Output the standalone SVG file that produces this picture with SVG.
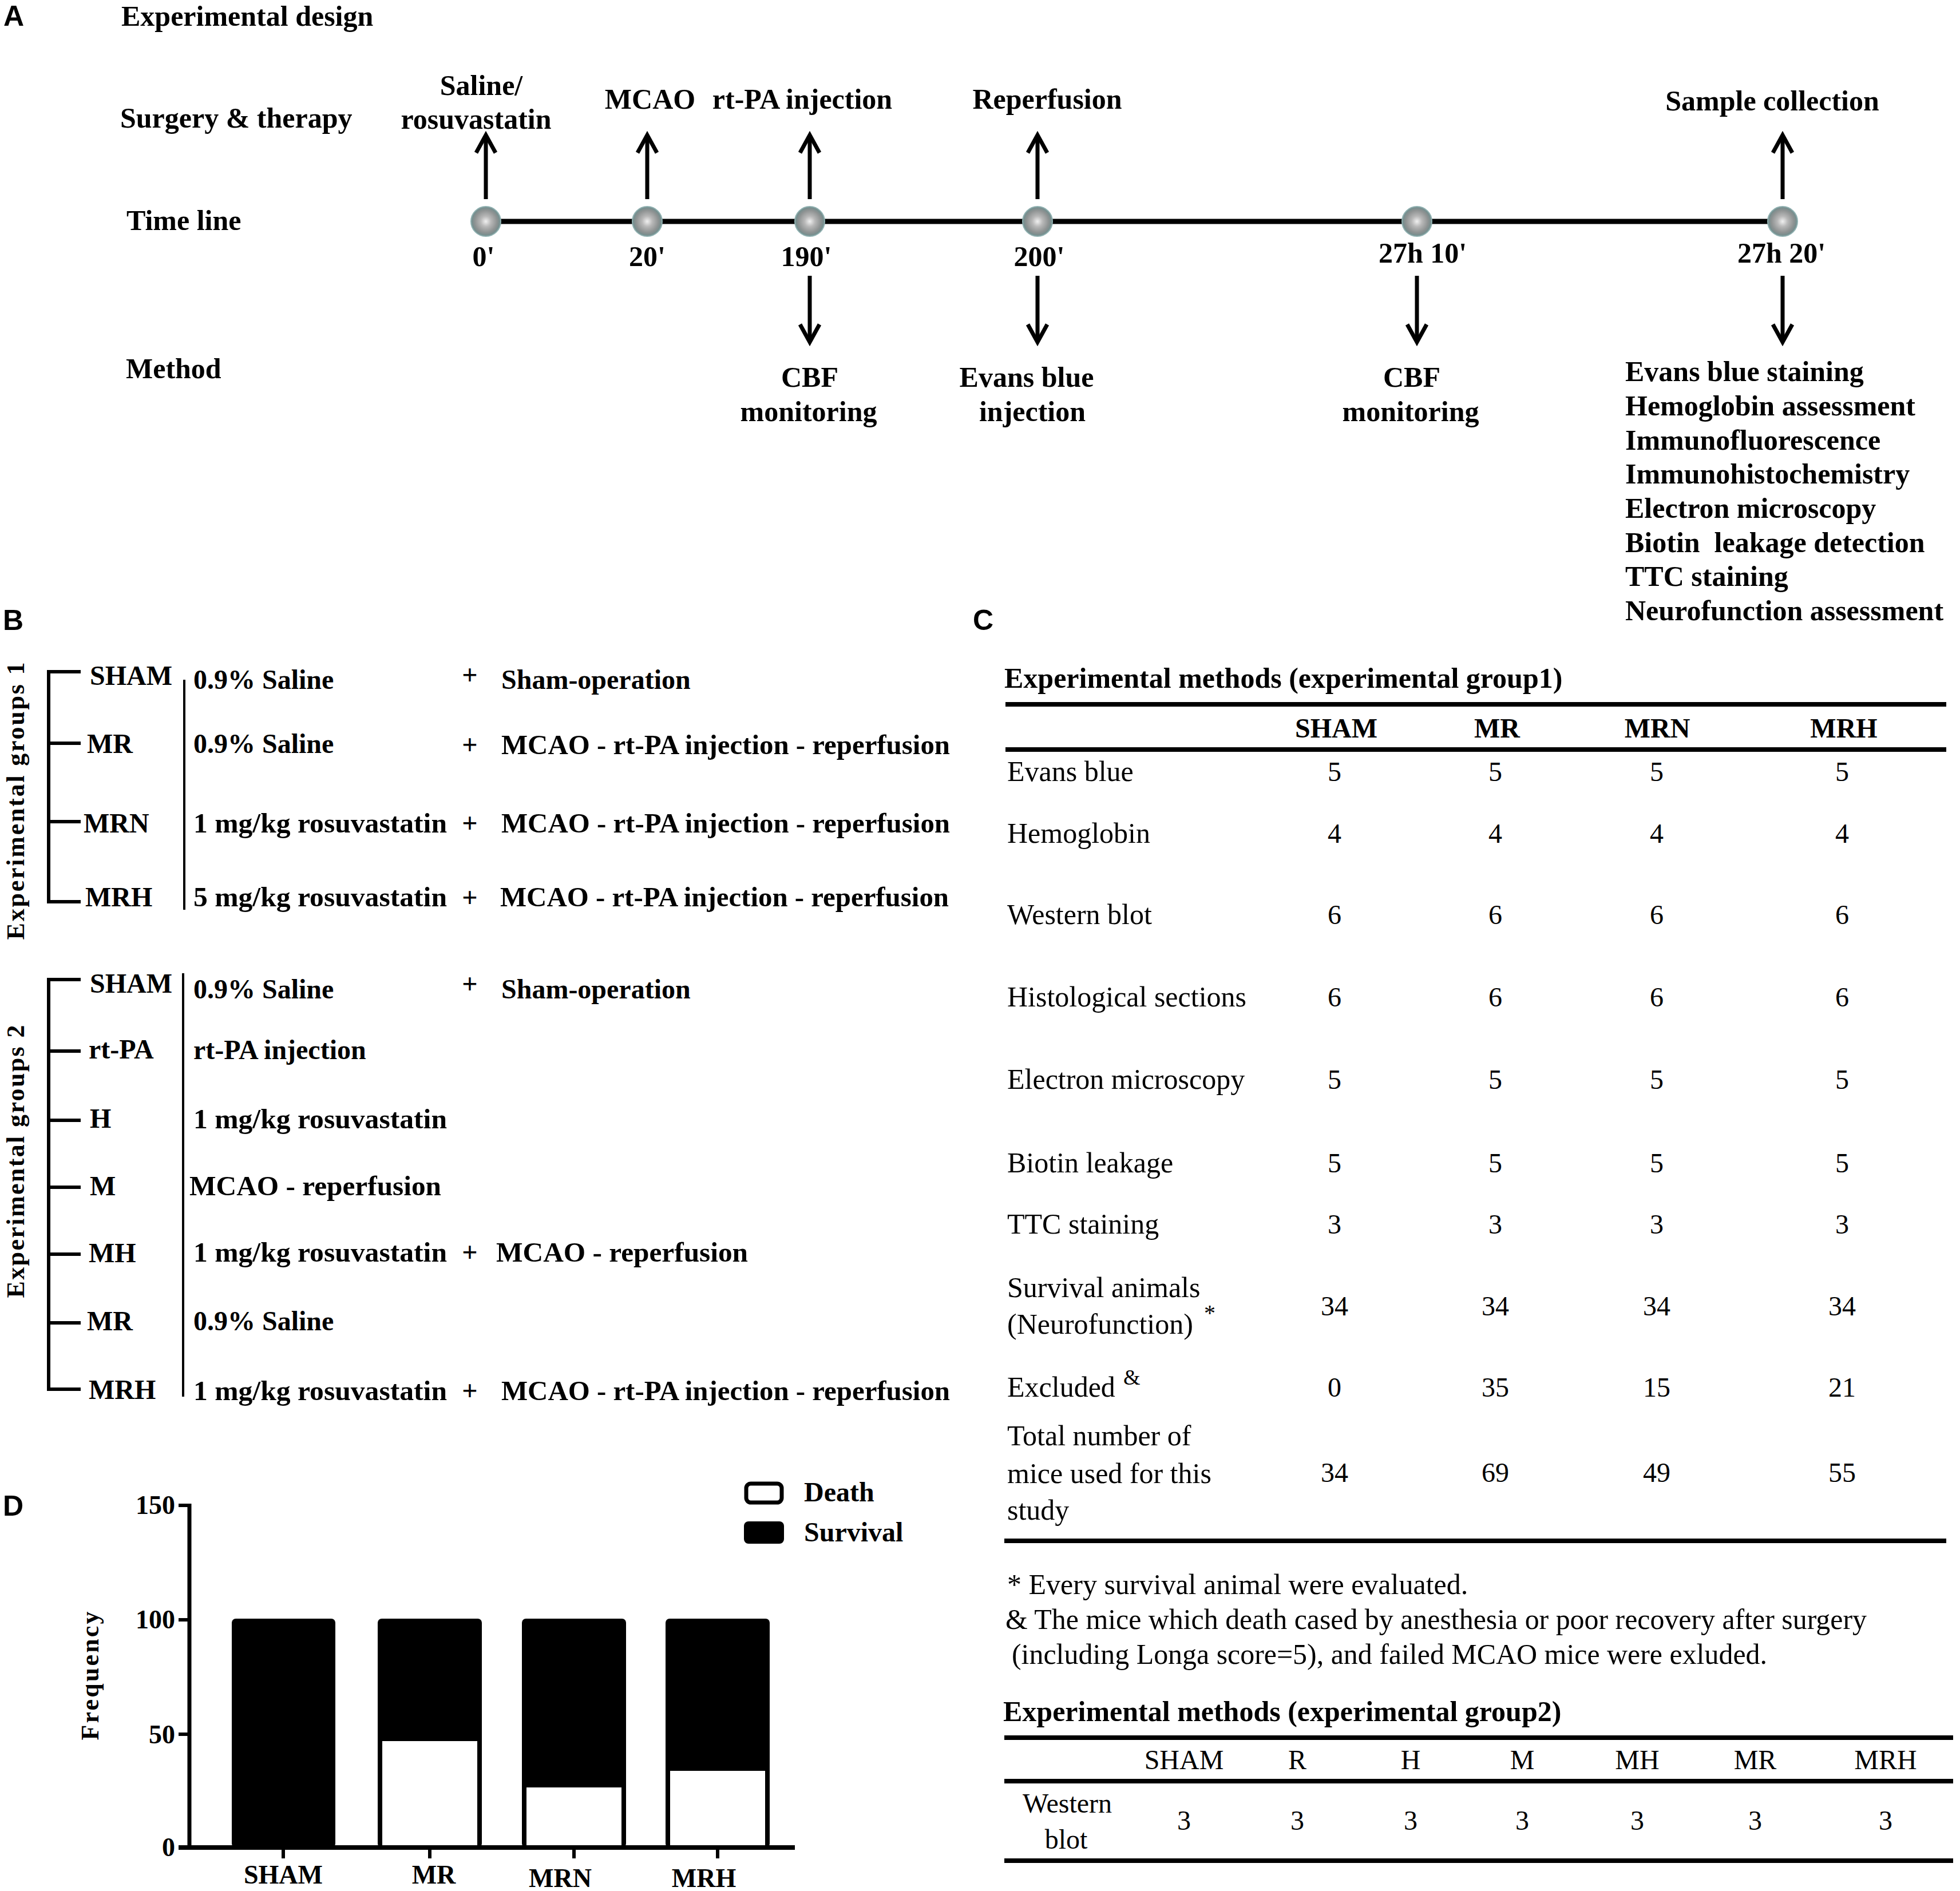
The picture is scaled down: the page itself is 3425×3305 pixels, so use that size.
<svg xmlns="http://www.w3.org/2000/svg" width="3425" height="3305" viewBox="0 0 3425 3305">
<style>
text { fill:#000; }
.b { font-family:"Liberation Serif","Times New Roman",serif; font-weight:bold; }
.r { font-family:"Liberation Serif","Times New Roman",serif; }
.pl { font-family:"Liberation Sans",Arial,sans-serif; font-weight:bold; font-size:50px; }
.s50 { font-size:50px; }
.s48 { font-size:48px; }
.s46 { font-size:46px; }
.m { text-anchor:middle; }
.e { text-anchor:end; }
.ln { stroke:#000; fill:none; }
.arrow { stroke:#000; stroke-width:7; fill:none; marker-end:url(#head); }
.tl { stroke:#000; stroke-width:9; }
.br { stroke:#000; stroke-width:6; fill:none; }
.rule { stroke:#000; stroke-width:8; }
</style>
<defs>
<marker id="head" markerUnits="userSpaceOnUse" markerWidth="80" markerHeight="80" refX="0" refY="0" viewBox="-40 -40 80 80" orient="auto" overflow="visible">
<path d="M-31,-17 L0,0 L-31,17" fill="none" stroke="#000" stroke-width="7"/>
</marker>
<radialGradient id="metal" cx="50%" cy="50%" r="50%">
<stop offset="0" stop-color="#f0f0f0"/>
<stop offset="0.35" stop-color="#b8b8b8"/>
<stop offset="0.75" stop-color="#8e9292"/>
<stop offset="1" stop-color="#6e8c8c"/>
</radialGradient>
</defs>
<rect x="0" y="0" width="3425" height="3305" fill="#fff"/>

<!-- ===== Panel A ===== -->
<g id="panelA">
<text class="pl" x="6" y="45">A</text>
<text class="b s50" x="212" y="45">Experimental design</text>
<text class="b s50" x="210" y="223">Surgery &amp; therapy</text>
<text class="b s50" x="221" y="402">Time line</text>
<text class="b s50" x="220" y="661">Method</text>
</g>

<g id="connectors">
<line class="tl" x1="849" y1="387" x2="3115" y2="387"/>
<line class="arrow" x1="849" y1="348" x2="849" y2="236"/>
<line class="arrow" x1="1131" y1="348" x2="1131" y2="236"/>
<line class="arrow" x1="1415" y1="348" x2="1415" y2="236"/>
<line class="arrow" x1="1813" y1="348" x2="1813" y2="236"/>
<line class="arrow" x1="3115" y1="348" x2="3115" y2="236"/>
<line class="arrow" x1="1415" y1="482" x2="1415" y2="598"/>
<line class="arrow" x1="1813" y1="482" x2="1813" y2="598"/>
<line class="arrow" x1="2476" y1="482" x2="2476" y2="598"/>
<line class="arrow" x1="3115" y1="482" x2="3115" y2="598"/>
</g>

<g id="t0">
<ellipse cx="849" cy="387" rx="26" ry="26" fill="url(#metal)" stroke="#8fb0b0" stroke-width="2"/>
<text class="b s50 m" x="841" y="166">Saline/</text>
<text class="b s50 m" x="832" y="225">rosuvastatin</text>
<text class="b s50 m" x="845" y="465">0'</text>
</g>
<g id="t20">
<ellipse cx="1131" cy="387" rx="26" ry="26" fill="url(#metal)" stroke="#8fb0b0" stroke-width="2"/>
<text class="b s50 m" x="1136" y="190">MCAO</text>
<text class="b s50 m" x="1131" y="465">20'</text>
</g>
<g id="t190">
<ellipse cx="1415" cy="387" rx="26" ry="26" fill="url(#metal)" stroke="#8fb0b0" stroke-width="2"/>
<text class="b s50 m" x="1402" y="190">rt-PA injection</text>
<text class="b s50 m" x="1409" y="465">190'</text>
<text class="b s50 m" x="1415" y="676">CBF</text>
<text class="b s50 m" x="1413" y="736">monitoring</text>
</g>
<g id="t200">
<ellipse cx="1813" cy="387" rx="26" ry="26" fill="url(#metal)" stroke="#8fb0b0" stroke-width="2"/>
<text class="b s50 m" x="1830" y="190">Reperfusion</text>
<text class="b s50 m" x="1816" y="465">200'</text>
<text class="b s50 m" x="1794" y="676">Evans blue</text>
<text class="b s50 m" x="1804" y="736">injection</text>
</g>
<g id="t27h10">
<ellipse cx="2476" cy="387" rx="26" ry="26" fill="url(#metal)" stroke="#8fb0b0" stroke-width="2"/>
<text class="b s50 m" x="2486" y="459">27h 10'</text>
<text class="b s50 m" x="2467" y="676">CBF</text>
<text class="b s50 m" x="2465" y="736">monitoring</text>
</g>
<g id="t27h20">
<ellipse cx="3115" cy="387" rx="26" ry="26" fill="url(#metal)" stroke="#8fb0b0" stroke-width="2"/>
<text class="b s50 m" x="3097" y="193">Sample collection</text>
<text class="b s50 m" x="3113" y="459">27h 20'</text>
<text class="b s50" x="2840" y="666">Evans blue staining</text>
<text class="b s50" x="2840" y="726">Hemoglobin assessment</text>
<text class="b s50" x="2840" y="786">Immunofluorescence</text>
<text class="b s50" x="2840" y="845">Immunohistochemistry</text>
<text class="b s50" x="2840" y="905">Electron microscopy</text>
<text class="b s50" x="2840" y="965" xml:space="preserve">Biotin  leakage detection</text>
<text class="b s50" x="2840" y="1024">TTC staining</text>
<text class="b s50" x="2840" y="1084">Neurofunction assessment</text>
</g>

<!-- ===== Panel B ===== -->
<g id="panelB">
<text class="pl" x="5" y="1101">B</text>
<text class="b" font-size="44" x="0" y="0" text-anchor="middle" textLength="485" lengthAdjust="spacing" transform="translate(42 1400) rotate(-90)">Experimental groups 1</text>
<text class="b" font-size="44" x="0" y="0" text-anchor="middle" textLength="477" lengthAdjust="spacing" transform="translate(42 2030) rotate(-90)">Experimental groups 2</text>
</g>

<g id="brackets">
<path class="br" d="M141,1174 H85 V1576 H141 M85,1299 H141 M85,1436 H141"/>
<line class="ln" stroke-width="4" x1="322" y1="1188" x2="322" y2="1590"/>
<path class="br" d="M141,1712 H85 V2428 H141 M85,1837 H141 M85,1958 H141 M85,2075 H141 M85,2192 H141 M85,2312 H141"/>
<line class="ln" stroke-width="4" x1="320" y1="1701" x2="320" y2="2441"/>
</g>

<g id="g1-sham">
<text class="b s48" x="157" y="1197">SHAM</text>
<text class="b s48" x="338" y="1204">0.9% Saline</text>
<text class="b s48 m" x="821" y="1196">+</text>
<text class="b s48" x="876" y="1204">Sham-operation</text>
</g>
<g id="g1-mr">
<text class="b s48" x="152" y="1316">MR</text>
<text class="b s48" x="338" y="1316">0.9% Saline</text>
<text class="b s48 m" x="821" y="1318">+</text>
<text class="b s48" x="876" y="1318" textLength="784" lengthAdjust="spacingAndGlyphs">MCAO - rt-PA injection - reperfusion</text>
</g>
<g id="g1-mrn">
<text class="b s48" x="146" y="1455">MRN</text>
<text class="b s48" x="338" y="1455" textLength="443" lengthAdjust="spacingAndGlyphs">1 mg/kg rosuvastatin</text>
<text class="b s48 m" x="821" y="1455">+</text>
<text class="b s48" x="876" y="1455" textLength="784" lengthAdjust="spacingAndGlyphs">MCAO - rt-PA injection - reperfusion</text>
</g>
<g id="g1-mrh">
<text class="b s48" x="149" y="1584">MRH</text>
<text class="b s48" x="338" y="1584" textLength="443" lengthAdjust="spacingAndGlyphs">5 mg/kg rosuvastatin</text>
<text class="b s48 m" x="821" y="1585">+</text>
<text class="b s48" x="874" y="1584" textLength="784" lengthAdjust="spacingAndGlyphs">MCAO - rt-PA injection - reperfusion</text>
</g>

<g id="g2-sham">
<text class="b s48" x="157" y="1735">SHAM</text>
<text class="b s48" x="338" y="1745">0.9% Saline</text>
<text class="b s48 m" x="821" y="1736">+</text>
<text class="b s48" x="876" y="1745">Sham-operation</text>
</g>
<g id="g2-rtpa">
<text class="b s48" x="155" y="1850">rt-PA</text>
<text class="b s48" x="338" y="1851">rt-PA injection</text>
</g>
<g id="g2-h">
<text class="b s48" x="157" y="1971">H</text>
<text class="b s48" x="338" y="1972" textLength="443" lengthAdjust="spacingAndGlyphs">1 mg/kg rosuvastatin</text>
</g>
<g id="g2-m">
<text class="b s48" x="157" y="2089">M</text>
<text class="b s48" x="331" y="2089" textLength="440" lengthAdjust="spacingAndGlyphs">MCAO - reperfusion</text>
</g>
<g id="g2-mh">
<text class="b s48" x="155" y="2206">MH</text>
<text class="b s48" x="338" y="2205" textLength="443" lengthAdjust="spacingAndGlyphs">1 mg/kg rosuvastatin</text>
<text class="b s48 m" x="821" y="2205">+</text>
<text class="b s48" x="867" y="2205" textLength="440" lengthAdjust="spacingAndGlyphs">MCAO - reperfusion</text>
</g>
<g id="g2-mr">
<text class="b s48" x="152" y="2325">MR</text>
<text class="b s48" x="338" y="2325">0.9% Saline</text>
</g>
<g id="g2-mrh">
<text class="b s48" x="155" y="2445">MRH</text>
<text class="b s48" x="338" y="2447" textLength="443" lengthAdjust="spacingAndGlyphs">1 mg/kg rosuvastatin</text>
<text class="b s48 m" x="821" y="2447">+</text>
<text class="b s48" x="876" y="2447" textLength="784" lengthAdjust="spacingAndGlyphs">MCAO - rt-PA injection - reperfusion</text>
</g>

<!-- ===== Panel C ===== -->
<g id="panelC">
<text class="pl" x="1700" y="1101">C</text>
<text class="b s50" x="1755" y="1202">Experimental methods (experimental group1)</text>
<line class="rule" x1="1757" y1="1231" x2="3401" y2="1231"/>
<line class="rule" stroke-width="7" x1="1757" y1="1310" x2="3401" y2="1310"/>
<line class="rule" x1="1755" y1="2693" x2="3401" y2="2693"/>
<g class="b s48 m">
<text x="2335" y="1289">SHAM</text>
<text x="2616" y="1289">MR</text>
<text x="2896" y="1289">MRN</text>
<text x="3222" y="1289">MRH</text>
</g>
<g class="r s50">
<text x="1760" y="1365">Evans blue</text>
<text x="1760" y="1473">Hemoglobin</text>
<text x="1760" y="1615">Western blot</text>
<text x="1760" y="1759">Histological sections</text>
<text x="1760" y="1903">Electron microscopy</text>
<text x="1760" y="2049">Biotin leakage</text>
<text x="1760" y="2156">TTC staining</text>
<text x="1760" y="2267">Survival animals</text>
<text x="1760" y="2331">(Neurofunction)</text>
<text x="2104" y="2308" font-size="40">*</text>
<text x="1760" y="2441">Excluded</text>
<text x="1963" y="2420" font-size="38">&amp;</text>
<text x="1760" y="2526">Total number of</text>
<text x="1760" y="2592">mice used for this</text>
<text x="1760" y="2656">study</text>
</g>
<g class="r s48 m">
<text x="2332" y="1365">5</text><text x="2613" y="1365">5</text><text x="2895" y="1365">5</text><text x="3219" y="1365">5</text>
<text x="2332" y="1473">4</text><text x="2613" y="1473">4</text><text x="2895" y="1473">4</text><text x="3219" y="1473">4</text>
<text x="2332" y="1615">6</text><text x="2613" y="1615">6</text><text x="2895" y="1615">6</text><text x="3219" y="1615">6</text>
<text x="2332" y="1759">6</text><text x="2613" y="1759">6</text><text x="2895" y="1759">6</text><text x="3219" y="1759">6</text>
<text x="2332" y="1903">5</text><text x="2613" y="1903">5</text><text x="2895" y="1903">5</text><text x="3219" y="1903">5</text>
<text x="2332" y="2049">5</text><text x="2613" y="2049">5</text><text x="2895" y="2049">5</text><text x="3219" y="2049">5</text>
<text x="2332" y="2156">3</text><text x="2613" y="2156">3</text><text x="2895" y="2156">3</text><text x="3219" y="2156">3</text>
<text x="2332" y="2299">34</text><text x="2613" y="2299">34</text><text x="2895" y="2299">34</text><text x="3219" y="2299">34</text>
<text x="2332" y="2441">0</text><text x="2613" y="2441">35</text><text x="2895" y="2441">15</text><text x="3219" y="2441">21</text>
<text x="2332" y="2590">34</text><text x="2613" y="2590">69</text><text x="2895" y="2590">49</text><text x="3219" y="2590">55</text>
</g>
<g class="r s50">
<text x="1760" y="2786">* Every survival animal were evaluated.</text>
<text x="1757" y="2847" textLength="1505" lengthAdjust="spacingAndGlyphs">&amp; The mice which death cased by anesthesia or poor recovery after surgery</text>
<text x="1768" y="2908" textLength="1320" lengthAdjust="spacingAndGlyphs">(including Longa score=5), and failed MCAO mice were exluded.</text>
</g>
<text class="b s50" x="1753" y="3008">Experimental methods (experimental group2)</text>
<line class="rule" stroke-width="7" x1="1755" y1="3037" x2="3413" y2="3037"/>
<line class="rule" stroke-width="7" x1="1755" y1="3113" x2="3413" y2="3113"/>
<line class="rule" stroke-width="7" x1="1755" y1="3252" x2="3413" y2="3252"/>
<g class="r s48 m">
<text x="2069" y="3092">SHAM</text>
<text x="2267" y="3092">R</text>
<text x="2465" y="3092">H</text>
<text x="2660" y="3092">M</text>
<text x="2861" y="3092">MH</text>
<text x="3067" y="3092">MR</text>
<text x="3295" y="3092">MRH</text>
<text x="1865" y="3168">Western</text>
<text x="1863" y="3231">blot</text>
<text x="2069" y="3198">3</text>
<text x="2267" y="3198">3</text>
<text x="2465" y="3198">3</text>
<text x="2660" y="3198">3</text>
<text x="2861" y="3198">3</text>
<text x="3067" y="3198">3</text>
<text x="3295" y="3198">3</text>
</g>
</g>

<!-- ===== Panel D ===== -->
<g id="panelD">
<text class="pl" x="5" y="2649">D</text>
<text class="b" font-size="44" x="0" y="0" text-anchor="middle" textLength="225" lengthAdjust="spacing" transform="translate(172 2929) rotate(-90)">Frequency</text>
<g id="bar-sham">
<rect x="405" y="2829" width="181" height="400" rx="7" fill="#000"/>
</g>
<g id="bar-mr">
<rect x="660" y="2829" width="182" height="400" rx="7" fill="#000"/>
<rect x="668" y="3043" width="166" height="183" fill="#fff"/>
</g>
<g id="bar-mrn">
<rect x="912" y="2829" width="182" height="400" rx="7" fill="#000"/>
<rect x="920" y="3124" width="166" height="102" fill="#fff"/>
</g>
<g id="bar-mrh">
<rect x="1163" y="2829" width="182" height="400" rx="7" fill="#000"/>
<rect x="1171" y="3095" width="166" height="131" fill="#fff"/>
</g>
<g id="axes">
<line class="ln" stroke-width="7" x1="331" y1="2628" x2="331" y2="3232"/>
<line class="ln" stroke-width="8" x1="312" y1="3229" x2="1389" y2="3229"/>
<path class="ln" stroke-width="6" d="M312,2631 H331 M312,2831 H331 M312,3031 H331 M495,3229 V3248 M751,3229 V3248 M1003,3229 V3248 M1254,3229 V3248"/>
</g>
<g class="b s46 e">
<text x="306" y="2646">150</text>
<text x="306" y="2846">100</text>
<text x="306" y="3047">50</text>
<text x="306" y="3244">0</text>
</g>
<g class="b s46 m">
<text x="495" y="3292">SHAM</text>
<text x="758" y="3292">MR</text>
<text x="979" y="3298">MRN</text>
<text x="1230" y="3298">MRH</text>
</g>
<g id="legend">
<rect x="1304" y="2593" width="62" height="33" rx="8" fill="#fff" stroke="#000" stroke-width="7"/>
<rect x="1300" y="2659" width="70" height="39" rx="8" fill="#000"/>
<text class="b s48" x="1405" y="2624">Death</text>
<text class="b s48" x="1405" y="2694">Survival</text>
</g>
</g>
</svg>
